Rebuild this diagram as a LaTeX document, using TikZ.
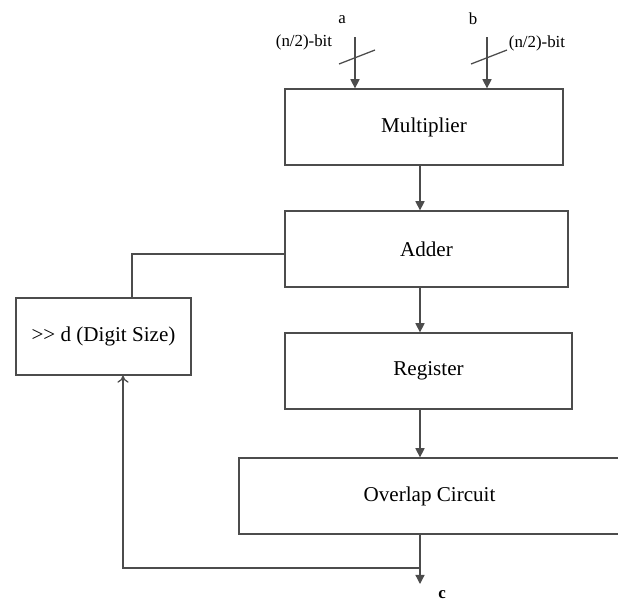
\documentclass[tikz,border=0pt]{standalone}
\usepackage{fontspec}
\setmainfont{Liberation Serif}
\usetikzlibrary{calc, arrows.meta}

\begin{document}
\begin{tikzpicture}[x=0.025cm, y=-0.025cm]
	\tikzstyle {block} = [draw = black!70, line width = 0.9pt, rectangle, minimum height = 1.9cm, inner sep = 0pt, font = \fontsize{15}{18}\selectfont];
	\tikzstyle {wire} = [draw = black!70, line width = 0.9pt];
	\tikzstyle {flow} = [wire, -{Triangle[width = 6.5pt, length = 6.5pt]}];
	\tikzstyle {tag} = [inner sep = 0pt, font = \fontsize{12}{14}\selectfont];
	\useasboundingbox (0, 0) rectangle (618, 601);
	% blocks
	\node[block, minimum width = 6.95cm] (Multiplier) at (424, 127) {Multiplier};
	\node[block, minimum width = 7.075cm] (Adder) at (426.5, 249) {Adder};
	\node[block, minimum width = 7.175cm] (Register) at (428.5, 371) {Register};
	\node[block, minimum width = 9.525cm] (Overlap) at (429.5, 496) {Overlap Circuit};
	\node[block, minimum width = 4.375cm, minimum height = 1.925cm] (Shift) at (103.5, 336.5) {>{}> d (Digit Size)};
	% inputs
	\coordinate (ain) at (355, 37);
	\coordinate (bin) at (487, 37);
	\node[tag] (a) at (342, 20) {a};
	\node[tag] (b) at (473, 19) {b};
	\node[tag] (abits) at (304, 42) {(n/2)-bit};
	\node[tag] (bbits) at (537, 43) {(n/2)-bit};
	\foreach \inname in {ain, bin} {
			\draw[flow] (\inname) -- (Multiplier.north -| \inname);
			\draw[wire] ($(\inname) + (-16, 27)$) -- ++(36, -14);
		}
	% data path
	\coordinate (col) at (420, 0);
	\foreach \firstnode/\secondnode in {Multiplier/Adder, Adder/Register, Register/Overlap} {
			\draw[flow] (\firstnode.south -| col) -- (\secondnode.north -| col);
		}
	% output and feedback
	\coordinate (cout) at (420, 584);
	\coordinate (fb) at (123, 568);
	\coordinate (sh) at (132, 0);
	\node[tag, font = \bfseries\fontsize{12}{14}\selectfont] (c) at (442, 595) {c};
	\draw[flow] (Overlap.south -| col) -- (cout);
	\draw[wire, -{To[length = 5pt, width = 8pt]}] (cout |- fb) -- (fb) -- (Shift.south -| fb);
	\draw[wire] (Adder.west |- 0, 254) -| (Shift.north -| sh);
\end{tikzpicture}
\end{document}
